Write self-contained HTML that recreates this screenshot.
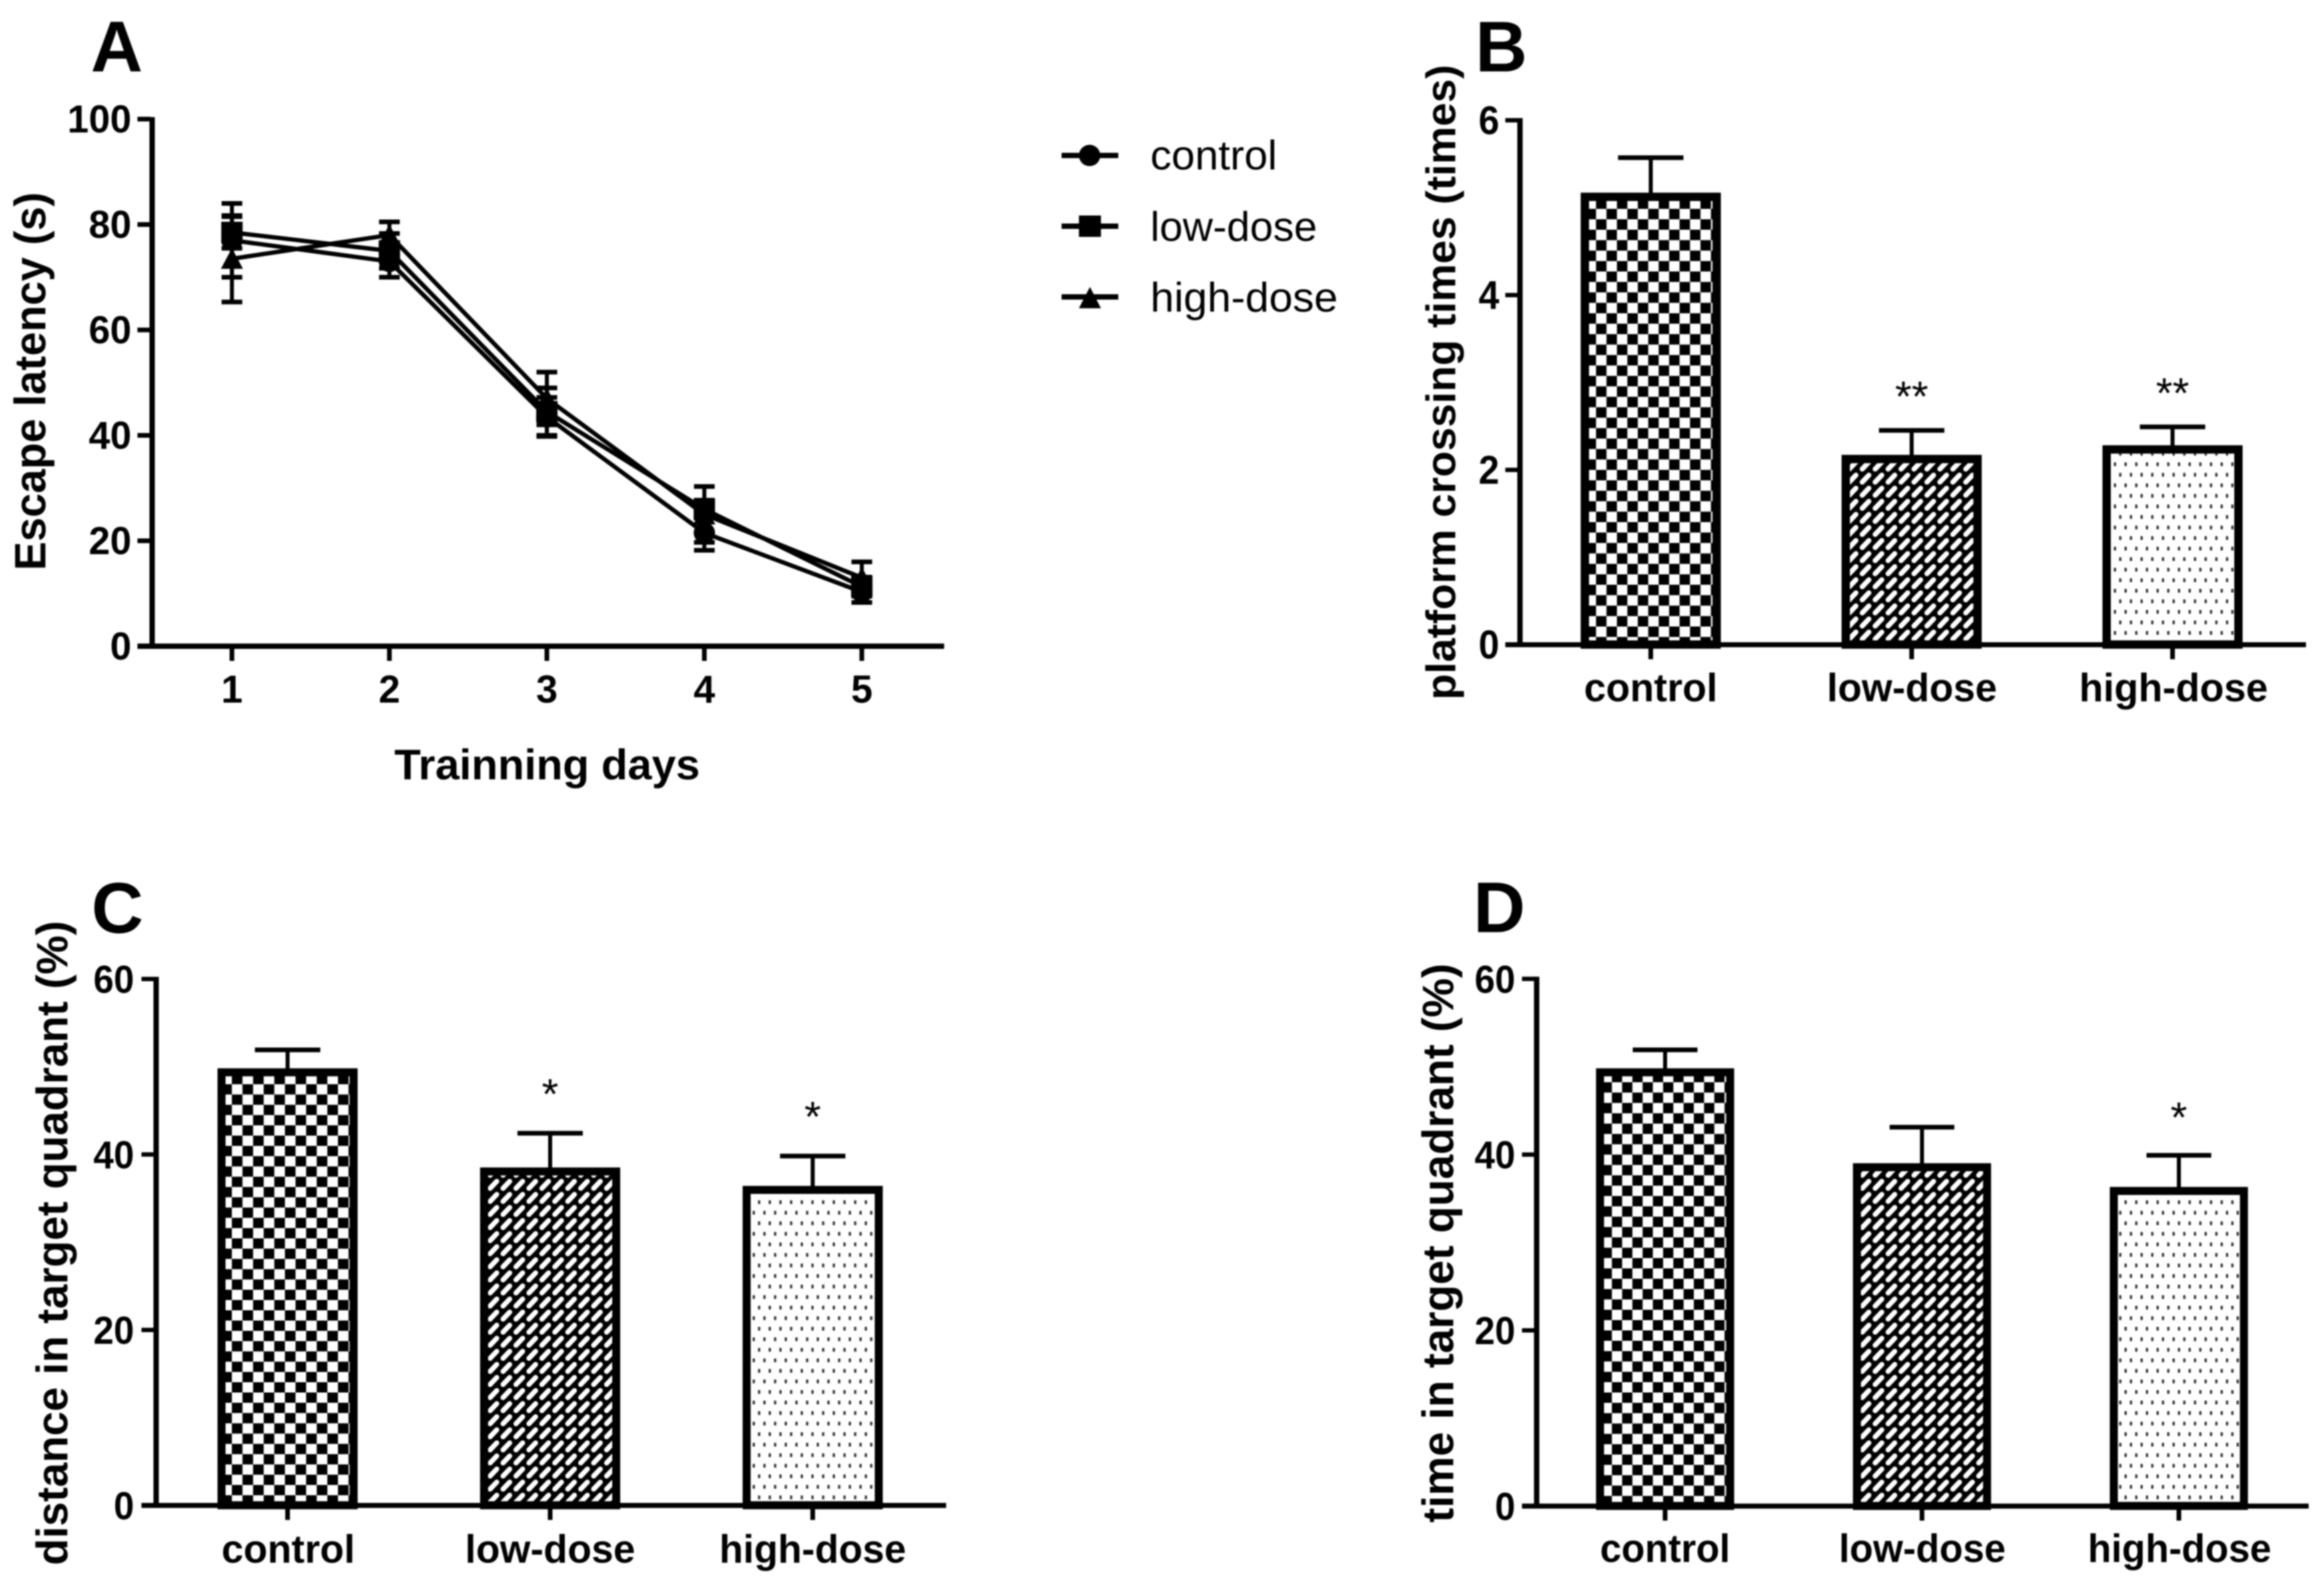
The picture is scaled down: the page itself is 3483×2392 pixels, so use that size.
<!DOCTYPE html>
<html lang="en">
<head>
<meta charset="utf-8">
<title>Morris water maze results</title>
<style>
html,body{margin:0;padding:0;background:#fff;width:3483px;height:2392px;overflow:hidden}
svg{display:block;filter:blur(1px)}
text{font-family:"Liberation Sans",Arial,sans-serif;fill:#000}
.b{font-weight:bold}
</style>
</head>
<body>
<svg id="fig" xmlns="http://www.w3.org/2000/svg" width="3483" height="2392" viewBox="0 0 3483 2392">
<defs>
  <pattern id="chkB" patternUnits="userSpaceOnUse" x="2392" y="313" width="31.3" height="31.3"><rect width="31.3" height="31.3" fill="#000"/><rect width="15.65" height="15.65" fill="#fff"/><rect x="15.65" y="15.65" width="15.65" height="15.65" fill="#fff"/></pattern>
  <pattern id="chkC" patternUnits="userSpaceOnUse" x="331.6" y="1609.6" width="31.8" height="30.8"><rect width="31.8" height="30.8" fill="#000"/><rect width="15.9" height="15.4" fill="#fff"/><rect x="15.9" y="15.4" width="15.9" height="15.4" fill="#fff"/></pattern>
  <pattern id="chkD" patternUnits="userSpaceOnUse" x="2400.4" y="1606.5" width="30.7" height="31"><rect width="30.7" height="31" fill="#000"/><rect width="15.35" height="15.5" fill="#fff"/><rect x="15.35" y="15.5" width="15.35" height="15.5" fill="#fff"/></pattern>
  <pattern id="hatch" patternUnits="userSpaceOnUse" x="730" y="1766" width="19.4" height="19.6"><rect width="19.4" height="19.6" fill="#000"/><path d="M4.5 15 L14.5 4.5" fill="none" stroke="#fff" stroke-width="7.5" stroke-linecap="round"/></pattern>
  <pattern id="dots" patternUnits="userSpaceOnUse" x="1130" y="1797" width="32" height="31.6"><rect width="32" height="31.6" fill="#fff"/><rect x="6" y="2" width="3.4" height="5.6" fill="#333"/><rect x="22" y="2" width="3.4" height="5.6" fill="#333"/><rect x="-2" y="17.8" width="3.4" height="5.6" fill="#333"/><rect x="14" y="17.8" width="3.4" height="5.6" fill="#333"/><rect x="30" y="17.8" width="3.4" height="5.6" fill="#333"/></pattern>
</defs>

<rect width="3483" height="2392" fill="#fff"/>

<text class="b" x="136" y="107" font-size="108">A</text>
<text class="b" x="2211" y="107" font-size="108">B</text>
<text class="b" x="137" y="1398" font-size="108">C</text>
<text class="b" x="2208" y="1397" font-size="108">D</text>

<text class="b" transform="translate(68,855) rotate(-90)" font-size="66" textLength="567" lengthAdjust="spacingAndGlyphs">Escape latency (s)</text>
<text class="b" x="591" y="1168" font-size="64" textLength="458" lengthAdjust="spacingAndGlyphs">Trainning days</text>
<text class="b" transform="translate(2181,1049) rotate(-90)" font-size="62" textLength="952" lengthAdjust="spacingAndGlyphs">platform crossing times (times)</text>
<text class="b" transform="translate(101,2346) rotate(-90)" font-size="66" textLength="966" lengthAdjust="spacingAndGlyphs">distance in target quadrant (%)</text>
<text class="b" transform="translate(2178,2282) rotate(-90)" font-size="66" textLength="838" lengthAdjust="spacingAndGlyphs">time in target quadrant (%)</text>

<g>
  <rect x="1591" y="229" width="85" height="8"/>
  <circle cx="1633" cy="233" r="16"/>
  <text x="1724" y="254" font-size="62" textLength="190" lengthAdjust="spacingAndGlyphs">control</text>
  <rect x="1591" y="335" width="85" height="8"/>
  <rect x="1617" y="323" width="33" height="32"/>
  <text x="1724" y="361" font-size="62" textLength="250" lengthAdjust="spacingAndGlyphs">low-dose</text>
  <rect x="1591" y="441" width="85" height="8"/>
  <path d="M1633.5 430 L1650 462 L1617 462 Z"/>
  <text x="1724" y="467" font-size="62" textLength="281" lengthAdjust="spacingAndGlyphs">high-dose</text>
</g>

<g id="panelA"></g>
<g id="panelB"></g>
<g id="panelC"></g>
<g id="panelD"></g>
</svg>

<script>
// ---- Panel A data ----
const dayLabels = ['1', '2', '3', '4', '5'];
const latencyTicks = [0, 20, 40, 60, 80, 100];
const controlMeans = [77, 73, 43.5, 21.5, 10.3];
const controlErrors = [7, 3, 3.7, 3.3, 2];
const lowDoseMeans = [78.5, 75, 44.5, 26, 11.3];
const lowDoseErrors = [3, 3.3, 4.5, 1.7, 1.8];
const highDoseMeans = [73.5, 78, 47, 25, 13];
const highDoseErrors = [8.2, 2.5, 5, 5.3, 3];

// ---- Bar panel data ----
const groupLabels = ['control', 'low-dose', 'high-dose'];
const crossingTicks = [0, 2, 4, 6];
const crossingValues = [5.17, 2.17, 2.28];
const crossingErrors = [0.4, 0.28, 0.21];
const crossingStars = ['', '**', '**'];
const distanceTicks = [0, 20, 40, 60];
const distanceValues = [49.8, 38.5, 36.4];
const distanceErrors = [2.1, 3.9, 3.4];
const distanceStars = ['', '*', '*'];
const timeTicks = [0, 20, 40, 60];
const timeValues = [49.8, 39, 36.3];
const timeErrors = [2.1, 4.1, 3.6];
const timeStars = ['', '', '*'];

const SVGNS = 'http://www.w3.org/2000/svg';
function mk(tag, attrs, parent, txt) {
  const n = document.createElementNS(SVGNS, tag);
  for (const k in attrs) n.setAttribute(k, attrs[k]);
  if (txt !== undefined) n.textContent = txt;
  parent.appendChild(n);
  return n;
}

// ---- Panel A ----
(function () {
  const g = document.getElementById('panelA');
  const xDay = i => 347.6 + i * 236;
  const yLat = v => 968.5 - v * 7.9;
  const axisY = mk('rect', {x: 224, y: yLat(100) - 3, width: 8, height: yLat(0) - yLat(100) + 7}, g);
  
  
  const axisX = mk('rect', {x: 206, y: yLat(0) - 4, width: 1415 - 206, height: 8}, g);
  
  
  latencyTicks.forEach(t => {
    const tick = mk('rect', {x: 206, y: yLat(t) - 3.5, width: 20, height: 7}, g);
    
    
    const label = mk('text', {x: 197, y: yLat(t) + 20, 'font-size': 58, 'font-weight': 'bold', 'text-anchor': 'end', textLength: String(t).length * 32, lengthAdjust: 'spacingAndGlyphs'}, g, String(t));
    
    
  });
  dayLabels.forEach((d, i) => {
    const tick = mk('rect', {x: xDay(i) - 3.5, y: yLat(0), width: 7, height: 22}, g);
    
    
    const label = mk('text', {x: xDay(i), y: 1053, 'font-size': 58, 'font-weight': 'bold', 'text-anchor': 'middle'}, g, d);
    
    
  });
  const series = [
    {key: 'low-dose', means: lowDoseMeans, errs: lowDoseErrors},
    {key: 'high-dose', means: highDoseMeans, errs: highDoseErrors},
    {key: 'control', means: controlMeans, errs: controlErrors}
  ];
  series.forEach(s => {
    s.means.forEach((m, i) => {
      const cx = xDay(i);
      const stem = mk('rect', {x: cx - 3, y: yLat(m + s.errs[i]), width: 6, height: yLat(m - s.errs[i]) - yLat(m + s.errs[i])}, g);
      
      
      [m + s.errs[i], m - s.errs[i]].forEach(v => {
        const cap = mk('rect', {x: cx - 15.5, y: yLat(v) - 3.5, width: 31, height: 7}, g);
        
        
      });
    });
    const pts = s.means.map((m, i) => xDay(i) + ',' + yLat(m)).join(' ');
    const line = mk('polyline', {points: pts, fill: 'none', stroke: '#000', 'stroke-width': 6.5, 'stroke-linejoin': 'round'}, g);
    
    
  });
  series.forEach(s => {
    s.means.forEach((m, i) => {
      const cx = xDay(i), cy = yLat(m);
      let mark;
      if (s.key === 'control') mark = mk('circle', {cx: cx, cy: cy, r: 16}, g);
      else if (s.key === 'low-dose') mark = mk('rect', {x: cx - 16, y: cy - 16, width: 32, height: 32}, g);
      else mark = mk('path', {d: 'M' + cx + ' ' + (cy - 16) + ' L' + (cx + 16.5) + ' ' + (cy + 15) + ' L' + (cx - 16.5) + ' ' + (cy + 15) + ' Z'}, g);
      
      
    });
  });
})();

// ---- Bar panels ----
function drawBars(id, o, ticks, values, errors, stars) {
  const g = document.getElementById(id);
  const yS = v => o.y0 - v * o.unit;
  const xC = i => o.c0 + i * o.step;
  const topV = ticks[ticks.length - 1];
  const axisY = mk('rect', {x: o.ax - 4, y: yS(topV) - 3, width: 8, height: yS(0) - yS(topV) + 7}, g);
  
  
  ticks.forEach(t => {
    const tick = mk('rect', {x: o.ax - 22, y: yS(t) - 3, width: 20, height: 6.5}, g);
    
    
    const label = mk('text', {x: o.ax - o.lblGap, y: yS(t) + o.lblDy, 'font-size': o.lblSize, 'font-weight': 'bold', 'text-anchor': 'end', textLength: String(t).length * o.digitW, lengthAdjust: 'spacingAndGlyphs'}, g, String(t));
    
    
  });
  groupLabels.forEach((name, i) => {
    const cx = xC(i), bw = o.bw, bt = o.border;
    const top = yS(values[i]), bot = yS(0);
    const eTop = yS(values[i] + errors[i]);
    const tick = mk('rect', {x: cx - 3.5, y: bot, width: 7, height: 22}, g);
    
    
    const stem = mk('rect', {x: cx - 3, y: eTop, width: 6, height: top - eTop + 2}, g);
    
    
    const cap = mk('rect', {x: cx - o.capW / 2, y: eTop - 3.5, width: o.capW, height: 7}, g);
    
    
    const bar = mk('rect', {x: cx - bw / 2 + bt / 2, y: top + bt / 2, width: bw - bt, height: bot - top - bt / 2, fill: 'url(#' + o.fills[i] + ')', stroke: '#000', 'stroke-width': bt}, g);
    
    
    if (stars[i]) {
      const star = mk('text', {x: cx, y: eTop - o.starGap + 37, 'font-size': 64, 'text-anchor': 'middle'}, g, stars[i]);
      
      
    }
    const lab = mk('text', {x: o.labelX[i], y: o.labelY, 'font-size': 59, 'font-weight': 'bold', textLength: o.labelW[i], lengthAdjust: 'spacingAndGlyphs'}, g, name);
    
    
  });
  const axisX = mk('rect', {x: o.ax - 22, y: yS(0) - 3.5, width: o.xEnd - o.ax + 22, height: 7.5}, g);
  
  
}

drawBars('panelB', {
  y0: 966, unit: 131, ax: 2278, xEnd: 3456, c0: 2474, step: 391, bw: 210, border: 12.5, capW: 98,
  fills: ['chkB', 'hatch', 'dots'], starGap: 66, lblGap: 31, lblDy: 21, lblSize: 60, digitW: 31,
  labelX: [2374, 2738, 3116], labelW: [200, 255, 283], labelY: 1051
}, crossingTicks, crossingValues, crossingErrors, crossingStars);

drawBars('panelC', {
  y0: 2256, unit: 13.15, ax: 234, xEnd: 1418, c0: 431, step: 393.5, bw: 210, border: 12, capW: 98,
  fills: ['chkC', 'hatch', 'dots'], starGap: 74, lblGap: 33, lblDy: 21, lblSize: 58, digitW: 30.5,
  labelX: [332, 697, 1078], labelW: [200, 255, 280], labelY: 2342
}, distanceTicks, distanceValues, distanceErrors, distanceStars);

drawBars('panelD', {
  y0: 2257, unit: 13.17, ax: 2303, xEnd: 3460, c0: 2495.5, step: 385, bw: 207, border: 12, capW: 97,
  fills: ['chkD', 'hatch', 'dots'], starGap: 72, lblGap: 32, lblDy: 21, lblSize: 58, digitW: 30.5,
  labelX: [2398, 2756, 3129], labelW: [195, 250, 275], labelY: 2341
}, timeTicks, timeValues, timeErrors, timeStars);
</script>
</body>
</html>
